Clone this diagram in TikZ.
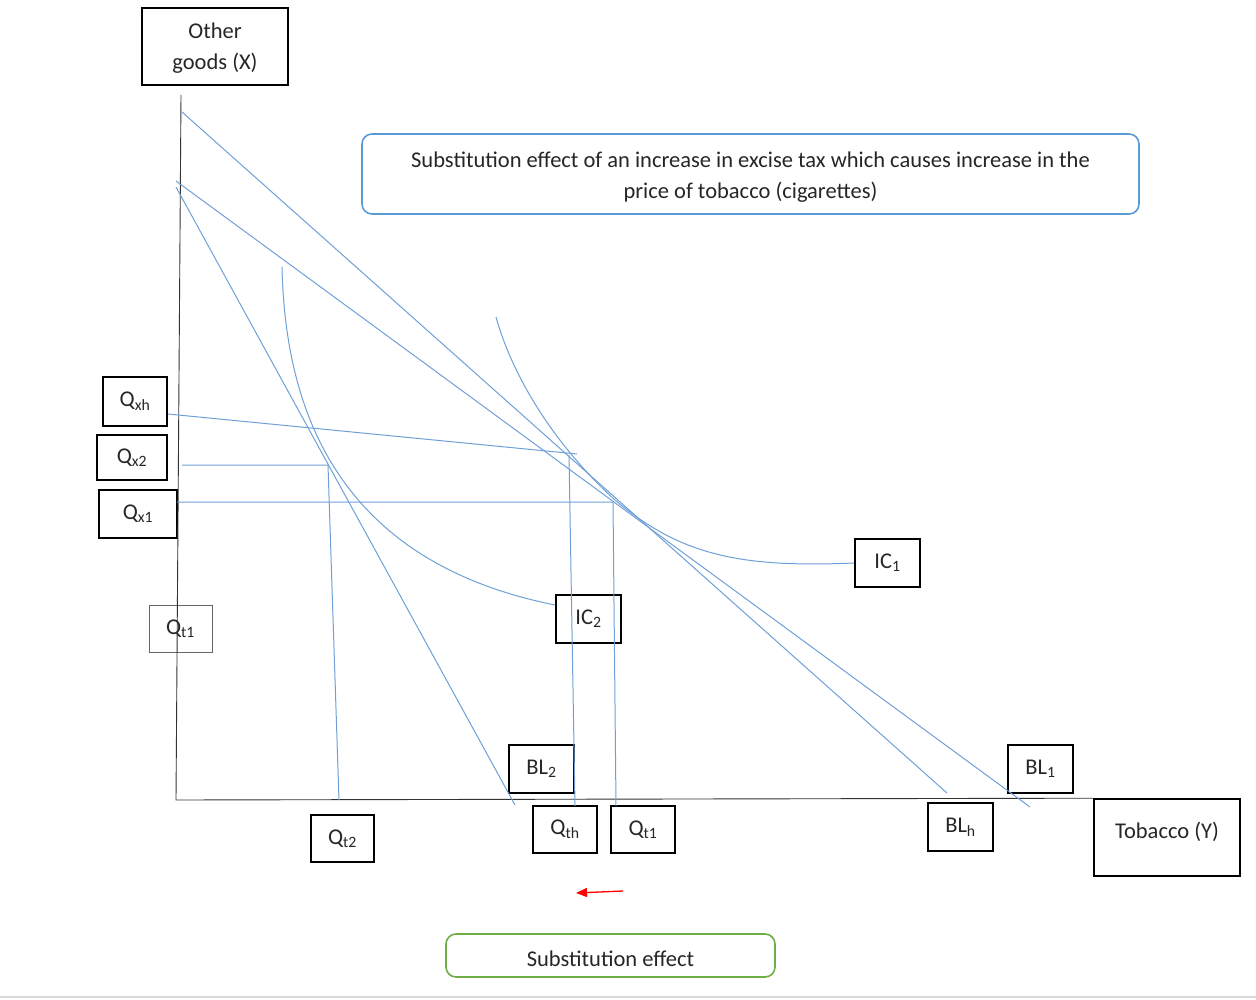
\documentclass[tikz,border=0pt]{standalone}
\usepackage{fontspec}
\setmainfont{Carlito}
\usetikzlibrary{arrows.meta}
\definecolor{lineblue}{RGB}{110,160,215}
\definecolor{titleblue}{RGB}{91,155,213}
\definecolor{boxgreen}{RGB}{112,173,71}
\begin{document}
\begin{tikzpicture}[x=1pt,y=-1pt,
  lbl/.style={draw=black,line width=1.6pt,inner sep=0pt,text=black!85,
    font=\fontsize{22.5}{31}\selectfont,align=center},
  thinlbl/.style={draw=black!60,line width=0.9pt,inner sep=0pt,text=black!85,
    font=\fontsize{22.5}{31}\selectfont},
  txt/.style={inner sep=0pt,text=black!85,font=\fontsize{22.5}{31}\selectfont,align=center},
  axis/.style={draw=black!80,line width=0.9pt},
  blue line/.style={draw=lineblue,line width=1pt},
  roundbox/.style={rounded corners=10pt,line width=1.6pt,inner sep=0pt}]
\useasboundingbox (0,0) rectangle (1256,1000);

% label boxes
\node[lbl,minimum width=146,minimum height=77] (other) at (215,46.5) {};
\node[txt] (othertxt) at ([yshift=-2pt]other.center) {Other\\goods (X)};
\node[lbl,minimum width=146,minimum height=77] (tob) at (1167,837.5) {};
\node[txt] (tobtxt) at ([yshift=6pt]tob.center) {Tobacco (Y)};
\node[lbl,minimum width=64,minimum height=49] (qxh) at (135,401.5) {Q\textsubscript{xh}};
\node[lbl,minimum width=70,minimum height=45] (qx2) at (132,457.5) {Q\textsubscript{x2}};
\node[lbl,minimum width=78,minimum height=48] (qx1) at (138,514) {Q\textsubscript{x1}};
\node[thinlbl,minimum width=63,minimum height=47] (qt1L) at (180.5,628.5) {Q\textsubscript{t1}};
\node[lbl,minimum width=65,minimum height=48] (ic1) at (887.5,563) {IC\textsubscript{1}};
\node[lbl,minimum width=65,minimum height=48] (ic2) at (588.5,619) {IC\textsubscript{2}};
\node[lbl,minimum width=65,minimum height=48] (bl2) at (541.5,769) {BL\textsubscript{2}};
\node[lbl,minimum width=65,minimum height=48] (bl1) at (1040.5,769) {BL\textsubscript{1}};
\node[lbl,minimum width=65,minimum height=48] (blh) at (960.5,827) {BL\textsubscript{h}};
\node[lbl,minimum width=63,minimum height=47] (qt2) at (342.5,838.5) {Q\textsubscript{t2}};
\node[lbl,minimum width=64,minimum height=47] (qth) at (565,829.5) {Q\textsubscript{th}};
\node[lbl,minimum width=64,minimum height=47] (qt1) at (643,829.5) {Q\textsubscript{t1}};

\node[roundbox,draw=titleblue,minimum width=777,minimum height=80] (title) at (750.5,174) {};
\node[txt] (titletxt) at ([yshift=-3.5pt]title.center)
  {Substitution effect of an increase in excise tax which causes increase in the\\price of tobacco (cigarettes)};
\node[roundbox,draw=boxgreen,minimum width=329,minimum height=43] (sub) at (610.5,955.5) {};
\node[txt] (subtxt) at ([yshift=-3pt]sub.center) {Substitution effect};

% axes
\coordinate (ytop) at (181,95);
\coordinate (origin) at (176,800);
\draw[axis] (ytop) -- (origin) -- (tob.north west);

% budget lines
\coordinate (blhA) at (182,112);  \coordinate (blhB) at (947,793);
\coordinate (bl1A) at (176,181);  \coordinate (bl1B) at (1030,807);
\coordinate (bl2A) at (176,187);  \coordinate (bl2B) at (515,805);
\draw[blue line] (blhA) -- (blhB);
\draw[blue line] (bl1A) -- (bl1B);
\draw[blue line] (bl2A) -- (bl2B);

% indifference curves
\coordinate (ic1s) at (496,317);
\coordinate (E1) at (615,500);
\draw[blue line] (ic1s) .. controls (515,385) and (562,452) .. (E1)
  .. controls (680,555) and (740,568) .. (ic1.west);
\coordinate (ic2s) at (282,267);
\coordinate (ic2e) at (555,605);
\draw[blue line] (ic2s) .. controls (285,400) and (330,560) .. (ic2e);

% guide lines
\coordinate (qxhS) at (168,414);
\coordinate (Eh) at (577,454);
\coordinate (Ehv) at (569,455);
\coordinate (qthB) at (575,806);
\draw[blue line] (qxhS) -- (Eh);
\draw[blue line] (Ehv) -- (qthB);

\coordinate (qx2S) at (182,465);
\coordinate (E2) at (328,465);
\coordinate (qt2B) at (339,800);
\draw[blue line] (qx2S) -- (E2) -- (qt2B);

\coordinate (qx1S) at (177,502);
\coordinate (E1c) at (613,502);
\coordinate (qt1B) at (616,806);
\draw[blue line] (qx1S) -- (E1c) -- (qt1B);

% red arrow
\coordinate (arrS) at (623,891);
\coordinate (arrE) at (576,893);
\draw[red,line width=1.3pt,-{Triangle[length=11pt,width=9pt]}] (arrS) -- (arrE);

% bottom rule
\coordinate (ruleL) at (0,997);
\coordinate (ruleR) at (1256,997);
\draw[black!15,line width=2pt] (ruleL) -- (ruleR);
\end{tikzpicture}
\end{document}
